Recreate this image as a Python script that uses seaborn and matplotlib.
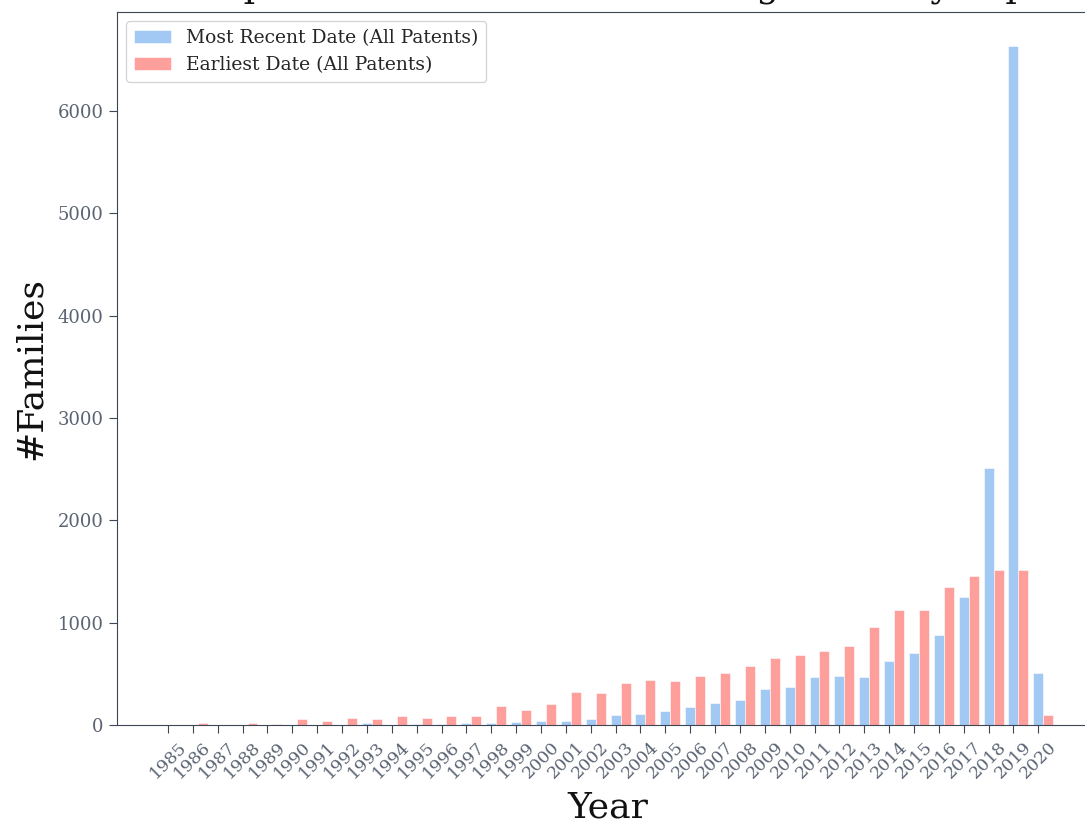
import numpy as np
import pandas as pd
import matplotlib
matplotlib.use('Agg')
import matplotlib.pyplot as plt
import seaborn as sns

years = list(range(1985, 2021))

most_recent = [0, 0, 0, 0, 0, 0, 2, 3, 16, 4, 5, 6, 16, 16, 29, 42, 42, 56,
               98, 107, 137, 176, 215, 241, 348, 375, 469, 482, 469, 629, 707,
               879, 1251, 2511, 6635, 508]
earliest = [3, 16, 4, 16, 5, 59, 42, 72, 59, 85, 72, 85, 85, 189, 150, 202,
            322, 310, 414, 443, 427, 482, 508, 577, 655, 681, 723, 775, 961,
            1121, 1121, 1345, 1453, 1518, 1518, 98]

label_recent = 'Most Recent Date (All Patents)'
label_earliest = 'Earliest Date (All Patents)'
title = 'Comparison of the Families Filing Dates by Top Patents'

df = pd.DataFrame({
    'year': years * 2,
    'families': most_recent + earliest,
    'type': [label_recent] * len(years) + [label_earliest] * len(years),
})

sns.set_style('ticks')
plt.rcParams['font.family'] = ['DejaVu Serif']
spine_col = '#3c4654'
tick_col = '#5b6473'

fig = plt.figure(figsize=(10.85, 8.23), dpi=100)
ax = fig.add_axes([117 / 1085, 98 / 823, 982 / 1085, 713 / 823])

pal = sns.color_palette('pastel')
sns.barplot(data=df, x='year', y='families', hue='type',
            palette=[pal[0], pal[3]], saturation=1, width=0.8, ax=ax,
            edgecolor='white', linewidth=0.4, legend=True)

# ticks sit on the centre of the first bar of each pair
ax.set_xticks(np.arange(len(years)) - 0.2)
ax.set_xticklabels([str(y) for y in years], rotation=45, fontsize=12.5,
                   color=tick_col)
ax.set_xlim(-2.25, 37.24)
ax.set_ylim(0, 6967)
ax.set_yticks([0, 1000, 2000, 3000, 4000, 5000, 6000])
ax.tick_params(axis='y', labelsize=13, labelcolor=tick_col, color=spine_col,
               length=6)
ax.tick_params(axis='x', color=spine_col, length=6, pad=4)
for s in ax.spines.values():
    s.set_color(spine_col)
    s.set_visible(True)

ax.set_xlabel('Year', fontsize=26, color='#111111', labelpad=6)
ax.set_ylabel('#Families', fontsize=26, color='#111111', labelpad=7)

handles, labels = ax.get_legend_handles_labels()
ax.legend(handles, labels, loc='upper left', fontsize=13.5, title=None,
          frameon=True)

# title sits mostly above the top edge, as in the cropped original
fig.text(0.6157, 1.0 + 3 / 823, title, ha='center', va='baseline',
         fontsize=26, color='#111111')

fig.savefig('out.png', dpi=100)
